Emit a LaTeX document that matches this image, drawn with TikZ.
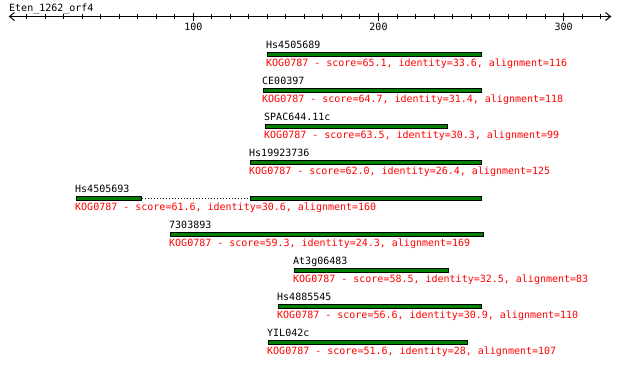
\documentclass[tikz,border=0pt]{standalone}
\usepackage{fontspec}
\newfontfamily\monofont{DejaVu Sans Mono}
\begin{document}
\begin{tikzpicture}[x=1pt,y=-1pt,
  txt/.style={font=\monofont\fontsize{10}{12}\selectfont, inner sep=0pt, anchor=base west},
  lbl/.style={txt, text=black},
  info/.style={txt, text=red},
  bar/.style={draw=black, line width=1pt, fill=barGreen, inner sep=0pt, minimum height=4pt, anchor=north west},
  ax/.style={line width=1pt, black},
  gap/.style={line width=1pt, dotted, black}]
\definecolor{barGreen}{RGB}{0,128,0}
\useasboundingbox (0,0) rectangle (620,365);
% title and axis
\node[lbl] (title) at (9,11) {Eten\_1262\_orf4};
\coordinate (axL) at (9.5,16.5);
\coordinate (axR) at (610.5,16.5);
\draw[ax] (axL) -- (axR);
\draw[ax] (14.5,12.5) -- (axL) -- (14.5,20.5);
\draw[ax] (605.5,12.5) -- (axR) -- (605.5,20.5);
\foreach \u in {10,20,...,320} {
  \draw[ax] ({8.1+1.852*\u},14) -- ({8.1+1.852*\u},19);
}
\foreach \u in {100,200,300} {
  \draw[ax] ({8.1+1.852*\u},12.5) -- ({8.1+1.852*\u},20.5);
  \node[txt, anchor=base] (t\u) at ({8.1+1.852*\u},30) {\u};
}
% rows: bar top = 52 + 36 r
% r0
\node[bar, minimum width=214pt] (b0) at (266.5,52) {};
\node[lbl] (l0) at (266,48.5) {Hs4505689};
\node[info] (i0) at (266,66.5) {KOG0787 - score=65.1, identity=33.6, alignment=116};
% r1
\node[bar, minimum width=218pt] (b1) at (262.5,88) {};
\node[lbl] (l1) at (262,84.5) {CE00397};
\node[info] (i1) at (262,102.5) {KOG0787 - score=64.7, identity=31.4, alignment=118};
% r2
\node[bar, minimum width=182pt] (b2) at (264.5,124) {};
\node[lbl] (l2) at (264,120.5) {SPAC644.11c};
\node[info] (i2) at (264,138.5) {KOG0787 - score=63.5, identity=30.3, alignment=99};
% r3
\node[bar, minimum width=231pt] (b3) at (249.5,160) {};
\node[lbl] (l3) at (249,156.5) {Hs19923736};
\node[info] (i3) at (249,174.5) {KOG0787 - score=62.0, identity=26.4, alignment=125};
% r4
\node[bar, minimum width=65pt] (b4a) at (75.5,196) {};
\node[bar, minimum width=231pt] (b4b) at (249.5,196) {};
\draw[gap] (b4a.east) -- (b4b.west);
\node[lbl] (l4) at (75,192.5) {Hs4505693};
\node[info] (i4) at (75,210.5) {KOG0787 - score=61.6, identity=30.6, alignment=160};
% r5
\node[bar, minimum width=313pt] (b5) at (169.5,232) {};
\node[lbl] (l5) at (169,228.5) {7303893};
\node[info] (i5) at (169,246.5) {KOG0787 - score=59.3, identity=24.3, alignment=169};
% r6
\node[bar, minimum width=154pt] (b6) at (293.5,268) {};
\node[lbl] (l6) at (293,264.5) {At3g06483};
\node[info] (i6) at (293,282.5) {KOG0787 - score=58.5, identity=32.5, alignment=83};
% r7
\node[bar, minimum width=203pt] (b7) at (277.5,304) {};
\node[lbl] (l7) at (277,300.5) {Hs4885545};
\node[info] (i7) at (277,318.5) {KOG0787 - score=56.6, identity=30.9, alignment=110};
% r8
\node[bar, minimum width=199pt] (b8) at (267.5,340) {};
\node[lbl] (l8) at (267,336.5) {YIL042c};
\node[info] (i8) at (267,354.5) {KOG0787 - score=51.6, identity=28, alignment=107};
\end{tikzpicture}
\end{document}
